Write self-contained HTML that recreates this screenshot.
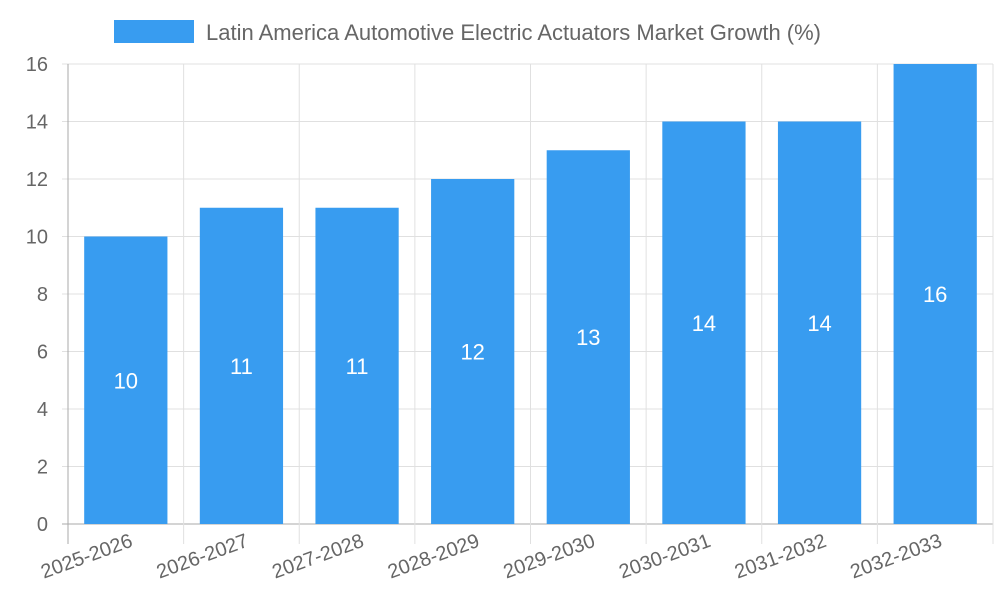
<!DOCTYPE html>
<html><head><meta charset="utf-8">
<style>
body{margin:0;background:#fff;}
svg{display:block;font-family:"Liberation Sans",sans-serif;}
</style></head>
<body>
<svg id="chart" width="1000" height="600" xmlns="http://www.w3.org/2000/svg">
  <rect x="114" y="20" width="80" height="23" fill="#389cf0"/>
  <text x="206" y="40" font-size="22" fill="#666">Latin America Automotive Electric Actuators Market Growth (%)</text>
  <g id="grid"></g>
  <g id="bars"></g>
  <g id="labels"></g>
</svg>
<script>
const categories=["2025-2026","2026-2027","2027-2028","2028-2029","2029-2030","2030-2031","2031-2032","2032-2033"];
const values=[10,11,11,12,13,14,14,16];
const yTicks=[0,2,4,6,8,10,12,14,16];
const L=68,R=993,T=64,B=524,yMax=16;
const NS="http://www.w3.org/2000/svg";
const cw=(R-L)/categories.length;
const y=v=>B-(v/yMax)*(B-T);
const x=i=>L+i*cw;
function mk(tag,attrs,parent,text){const e=document.createElementNS(NS,tag);for(const k in attrs)e.setAttribute(k,attrs[k]);if(text!==undefined)e.textContent=text;document.getElementById(parent).appendChild(e);return e;}
yTicks.forEach(t=>{
  const g=mk('line',{x1:L-6,x2:R,y1:y(t),y2:y(t),stroke:t===0?'#aaa':'#e0e0e0','stroke-width':1},'grid');
  
  
  const l=mk('text',{x:L-20,y:y(t)+7,'font-size':20,fill:'#666','text-anchor':'end'},'grid',String(t));
  
  
});
for(let i=0;i<=categories.length;i++){
  const g=mk('line',{x1:x(i),x2:x(i),y1:T,y2:B+20,stroke:i===0?'#aaa':'#e0e0e0','stroke-width':1},'grid');
  
  
}
categories.forEach((c,i)=>{
  const bw=cw*0.72, bx=x(i)+(cw-bw)/2;
  const r=mk('rect',{x:bx,y:y(values[i]),width:bw,height:B-y(values[i]),fill:'#389cf0'},'bars');
  
  
  const v=mk('text',{x:bx+bw/2,y:(y(values[i])+B)/2+8,'font-size':22,fill:'#fff','text-anchor':'middle'},'labels',String(values[i]));
  
  
  const cx=x(i)+cw/2+8, cy=B+22;
  const t=mk('text',{x:cx,y:cy,'font-size':20,fill:'#666','text-anchor':'end',transform:`rotate(-20 ${cx} ${cy})`},'labels',c);
  
  
});
</script>
</body></html>
